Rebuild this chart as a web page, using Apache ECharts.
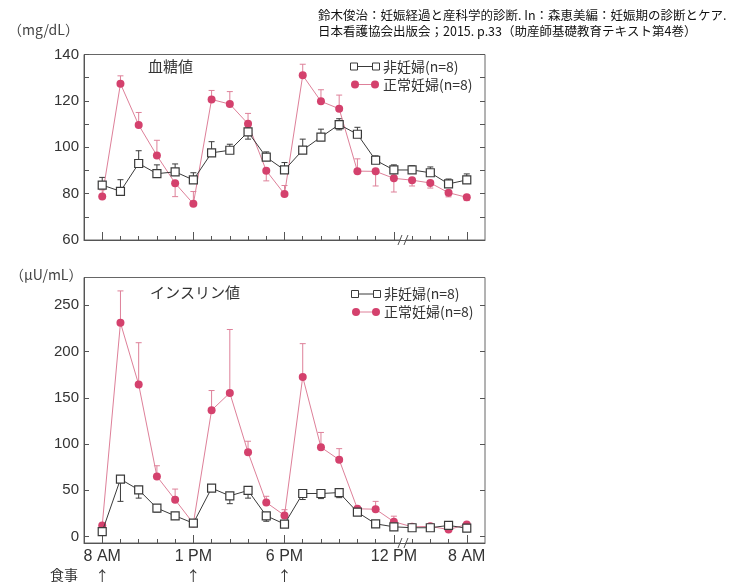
<!DOCTYPE html>
<html>
<head>
<meta charset="utf-8">
<script src="https://cdn.jsdelivr.net/npm/echarts@6/dist/echarts.min.js"></script>
<style>
html, body { margin: 0; padding: 0; background: #fff; }
#main { width: 731px; height: 586px; }
</style>
</head>
<body>
<div id="main"></div>
<script>
// 21 sampling points, 8 AM -> next 8 AM (axis broken after 12 PM)
var pointCount = 21;
var labelIdx = [0, 5, 10, 16, 20];
var labelText = ['8 AM', '1 PM', '6 PM', '12 PM', '8 AM'];
var mealIdx = [0, 5, 10];
var breakAt = 16.5;

// 血糖値 (mg/dL)
var gluNonPreg = [83.7, 81, 93, 88.6, 89.4, 85.9, 97.6, 98.7, 106.6, 95.7, 90.2, 98.8, 104.4, 109.8, 105.6, 94.4, 90.2, 90.2, 89, 84.2, 85.9];
var gluNonPregTop = [87, 86, 98.5, 92.4, 92.8, 89, 102.4, 101.3, 108.8, 98, 93.4, 103.5, 107.8, 112.3, 108.6, 96.3, 92.4, 92, 91.5, 86.3, 88.5];
var gluNonPregBottom = [null, null, null, null, null, null, null, null, 103.5, null, null, null, null, 107.5, null, null, null, null, null, null, null];
var gluPreg = [78.8, 127.4, 109.6, 96.4, 84.5, 75.6, 120.6, 118.6, 110.1, 89.9, 79.8, 131, 119.8, 116.6, 89.7, 89.6, 86.6, 85.8, 84.6, 80.4, 78.4];
var gluPregTop = [81.6, 130.8, 115, 103, null, 80.9, 124.5, 124, 114.6, null, 83.5, 135.8, 124.8, 122.5, 95, null, null, null, null, null, null];
var gluPregBottom = [null, null, null, null, 78.7, null, null, null, null, 85.5, null, null, null, null, null, 83.3, 80.7, 83.3, 82.4, 78.6, 77];

// インスリン値 (μU/mL)
var insNonPreg = [5.4, 62, 50.5, 30.7, 22.4, 14.4, 52.3, 44, 49.8, 22.4, 13.5, 46.5, 46.5, 47.5, 26.3, 13.7, 10.5, 9.5, 9.5, 12, 9];
var insNonPregBottom = [null, 38, 41.5, 26.5, 19, null, null, 35.5, 41.5, 16.5, null, 40, 41, 42, 23.5, 10.8, null, null, null, null, null];
var insPreg = [12, 231, 164.3, 65, 39.7, 14.2, 136.5, 155.2, 91, 36.8, 22.8, 172.5, 96.5, 83, 30, 29.5, 16, 10.5, 11, 7.5, 13];
var insPregTop = [null, 265.5, 209.5, 76.5, 51.3, null, 157.8, 223.8, 103, 43.5, 29, 208.5, 112.5, 95, null, 38, 22, null, null, null, null];

var gluTicks = [60, 70, 80, 90, 100, 110, 120, 130, 140];
var insTicks = [0, 50, 100, 150, 200, 250];

var BLACK = '#3a3a3a';
var PINK = '#d4416d';
var PINK_LINE = '#de8099';
var JP = '"Noto Sans CJK JP", sans-serif';
var NUM = '"Liberation Sans", Arial, sans-serif';

var allIdx = [];
for (var i = 0; i < pointCount; i++) allIdx.push(i);

function pairs(arr) {
    return arr.map(function (v, i) { return [i, v]; });
}
function errData(mean, ends) {
    var out = [];
    ends.forEach(function (e, i) {
        if (e != null) out.push([i, mean[i], e]);
    });
    return out;
}
function errSeries(gi, mean, ends, color) {
    return {
        type: 'custom',
        xAxisIndex: gi * 2, yAxisIndex: gi * 2,
        data: errData(mean, ends),
        z: 1,
        silent: true,
        renderItem: function (params, api) {
            var p0 = api.coord([api.value(0), api.value(1)]);
            var p1 = api.coord([api.value(0), api.value(2)]);
            return {
                type: 'group',
                children: [
                    { type: 'line', shape: { x1: p0[0], y1: p0[1], x2: p1[0], y2: p1[1] }, style: { stroke: color, lineWidth: 1 } },
                    { type: 'line', shape: { x1: p1[0] - 3, y1: p1[1], x2: p1[0] + 3, y2: p1[1] }, style: { stroke: color, lineWidth: 1 } }
                ]
            };
        }
    };
}

function xAxes(gi, withLabels) {
    var base = {
        gridIndex: gi, type: 'value', min: -1, max: 21, position: 'bottom',
        splitLine: { show: false }
    };
    var minor = Object.assign({}, base, {
        axisLine: { show: true, onZero: false, lineStyle: { color: '#555', width: 1 } },
        axisTick: { show: true, inside: true, length: 4, customValues: allIdx, lineStyle: { color: '#555' } },
        axisLabel: { show: false }
    });
    var major = Object.assign({}, base, {
        axisLine: { show: false, onZero: false },
        axisTick: { show: true, inside: true, length: 8, customValues: labelIdx, lineStyle: { color: '#555' } },
        axisLabel: withLabels ? {
            show: true, customValues: labelIdx, margin: 6,
            fontSize: 16, fontFamily: NUM, color: '#333',
            formatter: function (v) { return labelText[labelIdx.indexOf(v)]; }
        } : { show: false }
    });
    return [minor, major];
}

function yAxes(gi, min, max, ticks, labelEvery) {
    var left = {
        gridIndex: gi, type: 'value', min: min, max: max, position: 'left',
        splitLine: { show: false },
        axisLine: { show: true, onZero: false, lineStyle: { color: '#555' } },
        axisTick: { show: true, inside: true, length: 5, customValues: ticks, lineStyle: { color: '#555' } },
        axisLabel: {
            show: true, customValues: ticks.filter(function (t) { return t % labelEvery === 0; }),
            margin: 5, fontSize: 15, fontFamily: NUM, color: '#333'
        }
    };
    var right = {
        gridIndex: gi, type: 'value', min: min, max: max, position: 'right',
        splitLine: { show: false },
        axisLine: { show: false, onZero: false },
        axisTick: { show: true, inside: true, length: 5, customValues: ticks, lineStyle: { color: '#555' } },
        axisLabel: { show: false }
    };
    return [left, right];
}

function nonPregLine(gi, data) {
    return {
        type: 'line', xAxisIndex: gi * 2, yAxisIndex: gi * 2,
        data: pairs(data), symbol: 'rect', symbolSize: 8, z: 4,
        itemStyle: { color: '#fff', borderColor: BLACK, borderWidth: 1.2 },
        lineStyle: { color: BLACK, width: 1 }
    };
}
function pregLine(gi, data) {
    return {
        type: 'line', xAxisIndex: gi * 2, yAxisIndex: gi * 2,
        data: pairs(data), symbol: 'circle', symbolSize: 8, z: 3,
        itemStyle: { color: PINK, borderWidth: 0 },
        lineStyle: { color: PINK_LINE, width: 1 }
    };
}

function legendGroup(x, y) {
    return {
        type: 'group', x: x, y: y,
        children: [
            { type: 'line', shape: { x1: 0, y1: 0, x2: 22, y2: 0 }, style: { stroke: BLACK, lineWidth: 1 } },
            { type: 'rect', shape: { x: -3.5, y: -3.5, width: 7, height: 7 }, style: { fill: '#fff', stroke: BLACK, lineWidth: 1 } },
            { type: 'rect', shape: { x: 18.5, y: -3.5, width: 7, height: 7 }, style: { fill: '#fff', stroke: BLACK, lineWidth: 1 } },
            { type: 'text', x: 29, y: 0, style: { text: '非妊婦(n=8)', font: '14px ' + JP, fill: '#333', textVerticalAlign: 'middle' } },
            { type: 'line', shape: { x1: 1, y1: 18, x2: 21, y2: 18 }, style: { stroke: PINK_LINE, lineWidth: 1 } },
            { type: 'circle', shape: { cx: 1, cy: 18, r: 4 }, style: { fill: PINK } },
            { type: 'circle', shape: { cx: 21, cy: 18, r: 4 }, style: { fill: PINK } },
            { type: 'text', x: 29, y: 18, style: { text: '正常妊婦(n=8)', font: '14px ' + JP, fill: '#333', textVerticalAlign: 'middle' } }
        ]
    };
}

var chart = echarts.init(document.getElementById('main'));
var option = {
    animation: false,
    backgroundColor: '#fff',
    grid: [
        { left: 84, top: 54.5, width: 401, height: 185.5, show: true, borderColor: '#666', borderWidth: 1 },
        { left: 84, top: 277.5, width: 401, height: 265.5, show: true, borderColor: '#666', borderWidth: 1 }
    ],
    xAxis: xAxes(0, false).concat(xAxes(1, true)).concat([{
        gridIndex: 1, type: 'value', min: -1, max: 21, position: 'bottom',
        axisLine: { show: false, onZero: false }, axisTick: { show: false }, splitLine: { show: false },
        axisLabel: {
            show: true, customValues: mealIdx, margin: 26, fontSize: 14, color: '#333', fontFamily: JP,
            formatter: function () { return '↑'; }
        }
    }]),
    yAxis: yAxes(0, 60, 140, gluTicks, 20).concat(yAxes(1, -7, 280, insTicks, 50)),
    series: [
        errSeries(0, gluNonPreg, gluNonPregTop, BLACK),
        errSeries(0, gluNonPreg, gluNonPregBottom, BLACK),
        errSeries(0, gluPreg, gluPregTop, PINK_LINE),
        errSeries(0, gluPreg, gluPregBottom, PINK_LINE),
        pregLine(0, gluPreg),
        nonPregLine(0, gluNonPreg),
        errSeries(1, insNonPreg, insNonPregBottom, BLACK),
        errSeries(1, insPreg, insPregTop, PINK_LINE),
        pregLine(1, insPreg),
        nonPregLine(1, insNonPreg)
    ]
};
chart.setOption(option);

// text, legends and the axis break marks
var g = [
    { type: 'text', left: 318, top: 9, style: { text: '鈴木俊治：妊娠経過と産科学的診断. In：森恵美編：妊娠期の診断とケア.', font: '12.5px ' + JP, fill: '#111' } },
    { type: 'text', left: 318, top: 25, style: { text: '日本看護協会出版会；2015. p.33（助産師基礎教育テキスト第4巻）', font: '12.5px ' + JP, fill: '#111' } },
    { type: 'text', left: 8, top: 23, style: { text: '（mg/dL）', font: '14px ' + JP, fill: '#444' } },
    { type: 'text', left: 10, top: 268, style: { text: '（μU/mL）', font: '14px ' + JP, fill: '#444' } },
    { type: 'text', left: 148, top: 59, style: { text: '血糖値', font: '15px ' + JP, fill: '#333' } },
    { type: 'text', left: 150, top: 285, style: { text: 'インスリン値', font: '15px ' + JP, fill: '#333' } },
    { type: 'text', left: 50, top: 568, style: { text: '食事', font: '14px ' + JP, fill: '#333' } },
    legendGroup(354, 66.5),
    legendGroup(355, 294)
];
[[0, 60], [2, -7]].forEach(function (a) {
    var p = chart.convertToPixel({ xAxisIndex: a[0], yAxisIndex: a[0] }, [breakAt, a[1]]);
    g.push({
        type: 'group', x: p[0], y: p[1], z: 100,
        children: [
            { type: 'rect', shape: { x: -2, y: -1.5, width: 4, height: 3 }, style: { fill: '#fff' } },
            { type: 'line', shape: { x1: -5, y1: 5, x2: -1, y2: -5 }, style: { stroke: '#555', lineWidth: 1 } },
            { type: 'line', shape: { x1: 1, y1: 5, x2: 5, y2: -5 }, style: { stroke: '#555', lineWidth: 1 } }
        ]
    });
});
chart.setOption({ graphic: g });
</script>
</body>
</html>
